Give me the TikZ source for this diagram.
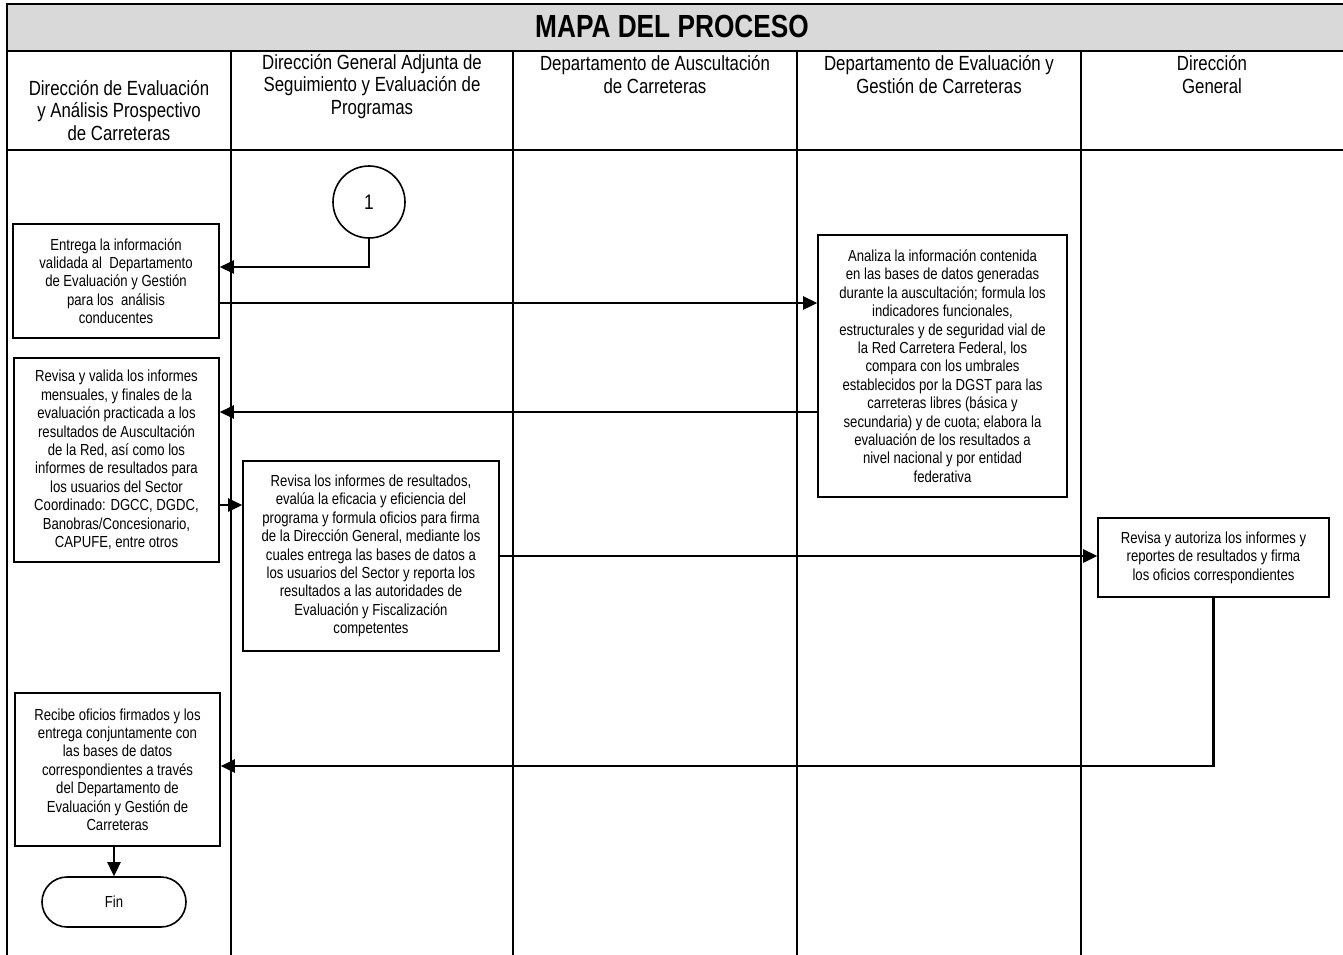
\documentclass[tikz,border=0pt]{standalone}
\usepackage{fontspec}
\setmainfont[FakeStretch=0.82]{Liberation Sans}
\usetikzlibrary{arrows.meta}
\definecolor{titlegray}{HTML}{D9D9D9}
\begin{document}
\begin{tikzpicture}[x=1pt,y=-1pt,
  lane/.style={line width=2.4pt},
  box/.style={draw, line width=1.6pt, align=center, inner sep=0pt, font=\fontsize{16}{18.4}\selectfont},
  conn/.style={line width=2.6pt, -{Triangle[length=14pt,width=13pt]}},
  hdr/.style={align=center, inner sep=0pt, font=\fontsize{20.5}{22.8}\selectfont}]
\useasboundingbox (0,0) rectangle (1343,955);
% frame
\fill[titlegray] (7,4) rectangle (1343,51);
\draw[lane, line join=miter] (1343,4) -- (7,4) -- (7,955);
\draw[lane] (7,51) -- (1343,51);
\draw[lane] (7,150) -- (1343,150);
\foreach \x in {231,513,797,1081} \draw[lane] (\x,51) -- (\x,955);
% title and headers
\node[inner sep=0pt, font=\fontsize{32}{36}\bfseries\selectfont] (title) at (672,26) {MAPA DEL PROCESO};
\node[hdr] (h1) at (119,110.5) {Dirección de Evaluación\\y Análisis Prospectivo\\de Carreteras};
\node[hdr] (h2) at (372,86.5) {Dirección General Adjunta de\\Seguimiento y Evaluación de\\Programas};
\node[hdr] (h3) at (655,74.5) {Departamento de Auscultación\\de Carreteras};
\node[hdr] (h4) at (939,74.5) {Departamento de Evaluación y\\Gestión de Carreteras};
\node[hdr] (h5) at (1212,74.5) {Dirección\\General};
% nodes
\node[draw, circle, line width=1.6pt, minimum size=72pt, inner sep=0pt, font=\fontsize{21}{24}\selectfont] (c1) at (369,202) {1};
\node[box, minimum width=206pt, minimum height=114pt] (e1) at (116,281)
  {Entrega la información\\validada al\ \ Departamento\\de Evaluación y Gestión\\para los\ \ análisis\\conducentes};
\node[box, minimum width=249pt, minimum height=262pt] (a1) at (942.5,366)
  {Analiza la información contenida\\en las bases de datos generadas\\durante la auscultación; formula los\\indicadores funcionales,\\estructurales y de seguridad vial de\\la Red Carretera Federal, los\\compara con los umbrales\\establecidos por la DGST para las\\carreteras libres (básica y\\secundaria) y de cuota; elabora la\\evaluación de los resultados a\\nivel nacional y por entidad\\federativa};
\node[box, minimum width=205pt, minimum height=204pt] (r1) at (116.5,460)
  {Revisa y valida los informes\\mensuales, y finales de la\\evaluación practicada a los\\resultados de Auscultación\\de la Red, así como los\\informes de resultados para\\los usuarios del Sector\\Coordinado: DGCC, DGDC,\\Banobras/Concesionario,\\CAPUFE, entre otros};
\node[box, minimum width=256pt, minimum height=190pt] (r2) at (371,556)
  {Revisa los informes de resultados,\\evalúa la eficacia y eficiencia del\\programa y formula oficios para firma\\de la Dirección General, mediante los\\cuales entrega las bases de datos a\\los usuarios del Sector y reporta los\\resultados a las autoridades de\\Evaluación y Fiscalización\\competentes};
\node[box, minimum width=231pt, minimum height=79pt] (d1) at (1213.5,557.5)
  {Revisa y autoriza los informes y\\reportes de resultados y firma\\los oficios correspondientes};
\node[box, minimum width=205pt, minimum height=153pt] (rec) at (117.5,769.5)
  {Recibe oficios firmados y los\\entrega conjuntamente con\\las bases de datos\\correspondientes a través\\del Departamento de\\Evaluación y Gestión de\\Carreteras};
\node[box, rounded corners=25pt, minimum width=144pt, minimum height=50pt] (fin) at (114,902) {Fin};
% connectors
\draw[conn] (c1.south) -- (c1.south |- 0,267) -- (e1.east |- 0,267);
\draw[conn] (e1.east |- 0,303) -- (a1.west |- 0,303);
\draw[conn] (a1.west |- 0,412) -- (r1.east |- 0,412);
\draw[conn] (r1.east |- 0,505) -- (r2.west |- 0,505);
\draw[conn] (r2.east |- 0,556) -- (d1.west |- 0,556);
\draw[conn] (d1.south) -- (d1.south |- 0,766) -- (rec.east |- 0,766);
\draw[conn] (fin.north |- rec.south) -- (fin.north);
\end{tikzpicture}
\end{document}
